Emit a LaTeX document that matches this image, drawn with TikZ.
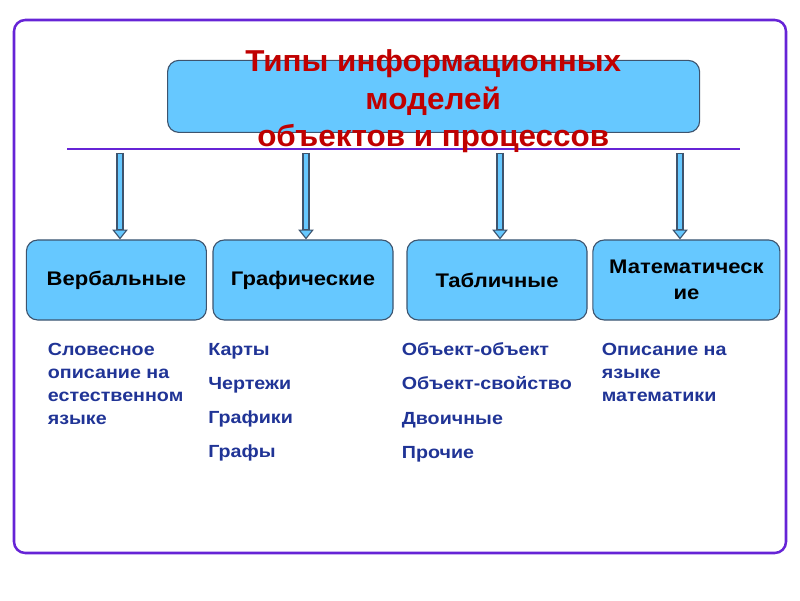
\documentclass[tikz,border=0pt]{standalone}
\usepackage{fontspec}
\setmainfont{Liberation Sans}[FakeStretch=1.12]
\newfontfamily\titlefont{Liberation Sans}[FakeStretch=1.04]
\usetikzlibrary{arrows.meta}
\definecolor{frameviolet}{RGB}{102,36,214}
\definecolor{boxblue}{RGB}{102,200,255}
\definecolor{boxline}{RGB}{62,84,110}
\definecolor{titlered}{RGB}{192,0,0}
\definecolor{listblue}{RGB}{32,52,150}
\tikzset{
  typebox/.style={draw=boxline,fill=boxblue,line width=0.8pt,rounded corners=8pt,
    minimum width=4.5cm,minimum height=2cm,align=center,
    font=\bfseries\fontsize{14}{18.5}\selectfont},
  listtext/.style={anchor=north west,inner sep=0pt,align=left,text=listblue},
  blockarrow/.style={draw=boxline,line width=5pt,
    -{Triangle[width=11pt,length=7pt,line width=0.8pt,fill=boxblue]},
    postaction={draw=boxblue,line width=3.4pt,-,shorten <=0.8pt,shorten >=7.6pt}}
}
\begin{document}
\begin{tikzpicture}
\useasboundingbox(0,0)rectangle(20,15);
\draw[frameviolet,line width=1.8pt,rounded corners=8pt](0.35,1.175)rectangle(19.65,14.5);
%
\node[typebox,minimum width=13.3cm,minimum height=1.8cm](title)at(10.84,12.59){};
\coordinate(barl)at(1.675,11.275);
\coordinate(barr)at(18.5,11.275);
\draw[frameviolet,line width=2pt](barl)--(barr);
\node[text=titlered,align=center,font=\titlefont\bfseries\fontsize{21.5}{26.5}\selectfont](titletext)
  at(10.83,12.47){Типы информационных\\моделей\\объектов и процессов};
%
\node[typebox](verb)at(2.91,8){Вербальные};
\node[typebox](graph)at(7.575,8){Графические};
\node[typebox](table)at(12.425,8){Табличные};
\node[typebox,minimum width=4.675cm](math)at(17.16,8){Математическ\\ие};
%
\coordinate(a1)at(3.0,11.175);
\coordinate(a2)at(7.65,11.175);
\coordinate(a3)at(12.5,11.175);
\coordinate(a4)at(17.0,11.175);
\draw[blockarrow](a1)--(a1|-verb.north);
\draw[blockarrow](a2)--(a2|-graph.north);
\draw[blockarrow](a3)--(a3|-table.north);
\draw[blockarrow](a4)--(a4|-math.north);
%
\node[listtext,font=\bfseries\fontsize{12.5}{16.4}\selectfont](verbtxt)at(1.19,6.43)
  {Словесное\\описание на\\естественном\\языке};
\node[listtext,font=\bfseries\fontsize{12.5}{24.2}\selectfont](graphtxt)at(5.2,6.43)
  {Карты\\Чертежи\\Графики\\Графы};
\node[listtext,font=\bfseries\fontsize{12.5}{24.2}\selectfont](tabletxt)at(10.04,6.43)
  {Объект-объект\\Объект-свойство\\Двоичные\\Прочие};
\node[listtext,font=\bfseries\fontsize{12.5}{16.4}\selectfont](mathtxt)at(15.04,6.43)
  {Описание на\\языке\\математики};
\end{tikzpicture}
\end{document}
